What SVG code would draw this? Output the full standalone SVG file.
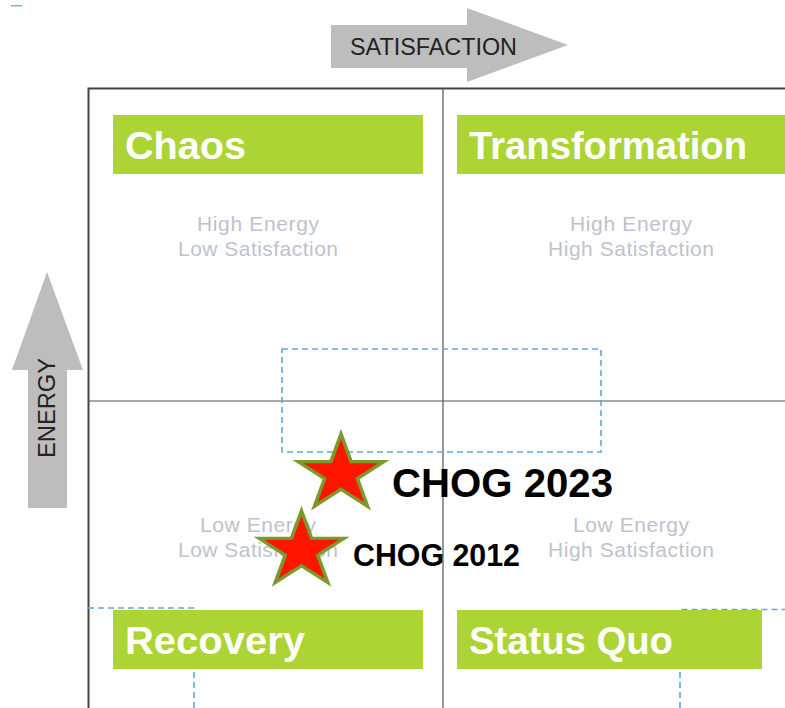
<svg xmlns="http://www.w3.org/2000/svg" width="785" height="708" viewBox="0 0 785 708">
<style>
.bg{fill:#ffffff}
.outer{stroke:#444444;stroke-width:2;fill:none}
.div{stroke:#555555;stroke-width:1.2;fill:none}
.dash{stroke:#5aaad6;stroke-width:1.6;fill:none;stroke-dasharray:6 4}
.band{fill:#acd434}
.title{font-family:"Liberation Sans",Arial,sans-serif;font-weight:bold;font-size:38px;fill:#ffffff}
.sub{font-family:"Liberation Sans",Arial,sans-serif;font-size:21px;fill:#bec2ce;text-anchor:middle}
.arrow{fill:#bdbdbd}
.axis{font-family:"Liberation Sans",Arial,sans-serif;font-size:23px;fill:#222222}
.star{fill:#ff1500;stroke:#7c9a2c;stroke-width:3.2;stroke-linejoin:miter}
.chog{font-family:"Liberation Sans",Arial,sans-serif;font-weight:bold;fill:#000000}
</style>
<defs>
<polygon id="starShape" class="star" points="0,-40 8.98,-12.36 38.04,-12.36 14.53,4.72 23.51,32.36 0,15.28 -23.51,32.36 -14.53,4.72 -38.04,-12.36 -8.98,-12.36"/>
</defs>
<rect class="bg" x="0" y="0" width="785" height="708"/>
<rect x="11" y="5" width="11" height="1.5" fill="#7fb0dc"/>

<g id="satisfaction-axis">
<polygon class="arrow" points="331,25 467,25 467,8 568,45 467,82 467,68 331,68"/>
<text class="axis" x="350" y="55" textLength="167" lengthAdjust="spacingAndGlyphs">SATISFACTION</text>
</g>
<g id="energy-axis">
<polygon class="arrow" points="28,508 28,370 12,370 47,272 83,370 67,370 67,508"/>
<text class="axis" transform="translate(55,458) rotate(-90)" x="0" y="0" textLength="100" lengthAdjust="spacingAndGlyphs">ENERGY</text>
</g>

<g id="grid">
<path class="outer" d="M785,88.5 H88.5 V708"/>
<path class="div" d="M443,88 V708 M88,401 H785"/>
</g>

<g id="connectors">
<rect class="dash" x="282" y="349" width="319" height="103"/>
<path class="dash" d="M88,608 H194 V708"/>
<path class="dash" d="M680,708 V609.5 H785"/>
</g>

<g id="chaos">
<rect class="band" x="113" y="115" width="310" height="59"/>
<text class="title" x="125" y="159" textLength="121" lengthAdjust="spacingAndGlyphs">Chaos</text>
<text class="sub" x="258" y="231" textLength="122">High Energy</text>
<text class="sub" x="258" y="256" textLength="160">Low Satisfaction</text>
</g>
<g id="transformation">
<rect class="band" x="457" y="115" width="328" height="59"/>
<text class="title" x="469" y="159" textLength="278" lengthAdjust="spacingAndGlyphs">Transformation</text>
<text class="sub" x="631" y="231" textLength="122">High Energy</text>
<text class="sub" x="631" y="256" textLength="166">High Satisfaction</text>
</g>
<g id="recovery">
<rect class="band" x="113" y="610" width="310" height="59"/>
<text class="title" x="125" y="654" textLength="180" lengthAdjust="spacingAndGlyphs">Recovery</text>
<text class="sub" x="258" y="532" textLength="116">Low Energy</text>
<text class="sub" x="258" y="557" textLength="160">Low Satisfaction</text>
</g>
<g id="status-quo">
<rect class="band" x="457" y="610" width="305" height="59"/>
<text class="title" x="469" y="654" textLength="204" lengthAdjust="spacingAndGlyphs">Status Quo</text>
<text class="sub" x="631" y="532" textLength="116">Low Energy</text>
<text class="sub" x="631" y="557" textLength="166">High Satisfaction</text>
</g>

<g id="chog-2023">
<use href="#starShape" transform="translate(341,474) scale(1.13,1)"/>
<text class="chog" x="392" y="497" font-size="40" textLength="221" lengthAdjust="spacingAndGlyphs">CHOG 2023</text>
</g>
<g id="chog-2012">
<use href="#starShape" transform="translate(301.5,550.5) scale(1.12,0.99)"/>
<text class="chog" x="353" y="566" font-size="31" textLength="167" lengthAdjust="spacingAndGlyphs">CHOG 2012</text>
</g>
</svg>
